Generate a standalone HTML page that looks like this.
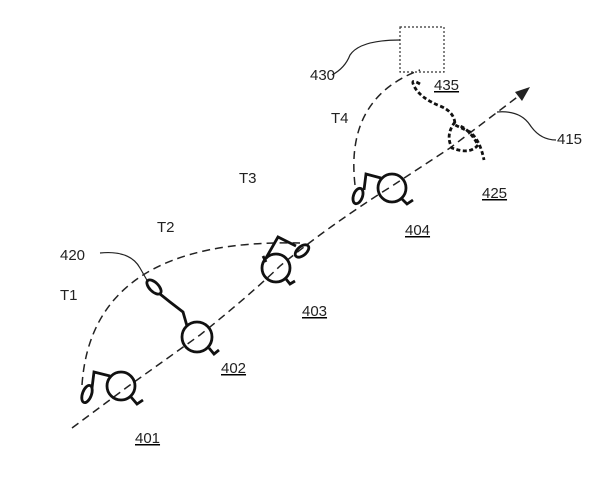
<!DOCTYPE html>
<html><head><style>body{margin:0;background:#fff}svg{display:block}text{font-family:"Liberation Sans",sans-serif;font-size:15px;fill:#222}</style></head><body>
<svg width="603" height="488" viewBox="0 0 603 488">
<g fill="none" stroke="#222" stroke-width="1.5" stroke-dasharray="8,5">
<path d="M72,428 L130,385 L200,335 Q250,295 280,266 Q330,225 392,186 L450,148 L520,95"/>
<path d="M82,385 Q92,238 300,243"/>
<path d="M355,185 Q345,98 420,70"/>
</g>
<polygon points="530,87 515,92 522,101" fill="#222"/>
<rect x="400" y="27" width="44" height="45" fill="none" stroke="#333" stroke-width="1.2" stroke-dasharray="2,2"/>
<g fill="none" stroke="#222" stroke-width="1.2">
<path d="M332,75 Q345,68 350,55 Q360,40 400,40"/>
<path d="M100,253 Q130,250 140,268 L148,282"/>
<path d="M497,112 Q520,110 530,125 Q540,140 556,140"/>
</g>
<g fill="none" stroke="#111" stroke-width="2.8">
<circle cx="121" cy="386" r="14"/><path d="M110,376 L94,372 L92,388 M131,397 L137,404 L143,400"/><ellipse cx="87" cy="394" rx="4.5" ry="9" transform="rotate(20 87 394)"/>
<circle cx="197" cy="337" r="15"/><path d="M187,326 L183,312 L170,302 L160,294 M209,348 L214,354 L219,350"/><ellipse cx="154" cy="287" rx="4.5" ry="9" transform="rotate(-45 154 287)"/>
<circle cx="276" cy="268" r="14"/><path d="M266,258 L278,237 L296,246 M266,262 L263,256 M286,279 L290,284 L295,281"/><ellipse cx="302" cy="251" rx="4.5" ry="8" transform="rotate(50 302 251)"/>
<circle cx="392" cy="188" r="14"/><path d="M381,178 L366,174 L364,190 M402,199 L407,204 L413,200"/><ellipse cx="358" cy="196" rx="4.5" ry="8" transform="rotate(20 358 196)"/>
</g>
<g fill="none" stroke="#111" stroke-width="2.8" stroke-dasharray="4,2.5">
<path d="M420,84 Q410,78 414,86 Q420,98 440,106 Q455,112 455,125 L470,132 Q480,140 484,160"/>
<path d="M455,122 Q445,135 452,148 Q470,155 478,145 Q470,130 460,126"/>
</g>
<text x="60" y="300">T1</text><text x="157" y="232">T2</text><text x="239" y="183">T3</text><text x="331" y="123">T4</text>
<text x="60" y="260">420</text><text x="310" y="80">430</text><text x="557" y="144">415</text>
<g text-decoration="underline"><text x="135" y="443">401</text><text x="221" y="373">402</text><text x="302" y="316">403</text><text x="405" y="235">404</text><text x="482" y="198">425</text><text x="434" y="90">435</text></g>
</svg></body></html>
